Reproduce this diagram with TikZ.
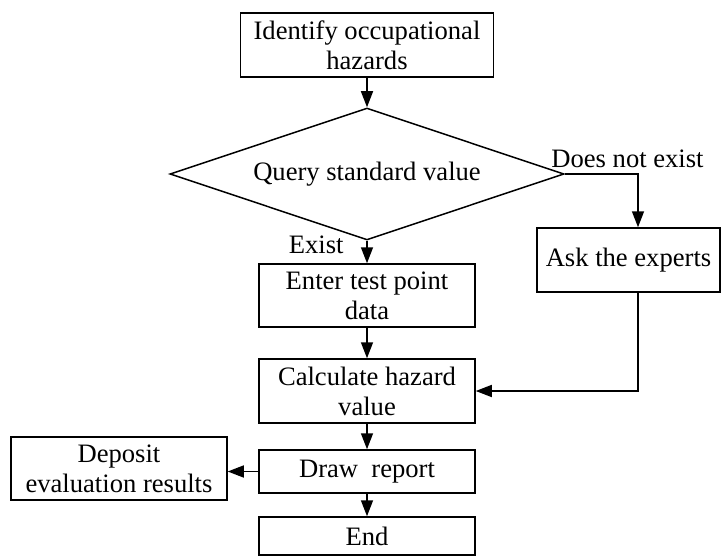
\documentclass[tikz,border=0pt]{standalone}
\usepackage{fontspec}
\setmainfont{Liberation Serif}
\usetikzlibrary{arrows.meta,shapes.geometric}
\tikzstyle{process}=[rectangle,draw,line width=0.75pt,inner sep=0pt,align=center,font=\fontsize{13.3}{15}\selectfont]
\tikzstyle{decision}=[diamond,draw,line width=0.75pt,inner sep=0pt,aspect=3,font=\fontsize{13.3}{15}\selectfont]
\tikzstyle{edge}=[draw,line width=0.75pt,-{Triangle[length=8pt,width=6pt]}]
\tikzstyle{branch}=[inner sep=0pt,font=\fontsize{13.3}{15}\selectfont]

\begin{document}
\begin{tikzpicture}[x=0.5pt,y=-0.5pt]
    \useasboundingbox (0,0) rectangle (723,556);

    % main column
    \node[process,minimum width=126.5pt,minimum height=32pt] (ident) at (367,45) {Identify occupational\\hazards};
    \node[decision,minimum width=197pt,minimum height=66pt] (query) at (367,174) {Query standard value};
    \node[process,minimum width=108pt,minimum height=31.5pt] (enter) at (367,295.5) {Enter test point\\data};
    \node[process,minimum width=108pt,minimum height=32pt] (calc) at (367,391) {Calculate hazard\\value};
    \node[process,minimum width=108pt,minimum height=21.5pt] (report) at (367,471.5) {Draw\ \ report};
    \node[process,minimum width=108pt,minimum height=19pt] (finish) at (367,536) {End};

    % side boxes
    \node[process,minimum width=108pt,minimum height=31.5pt] (deposit) at (119,468.5) {Deposit\\evaluation results};
    \node[process,minimum width=91.5pt,minimum height=32pt] (experts) at (628.5,260) {Ask the experts};
    \coordinate (turn) at (638,174);

    % Connect boxes
    \foreach \source/ \dest in {ident/query, query/enter, enter/calc, calc/report, report/finish}
        \path[edge] (\source) -- (\dest);
    \path[edge] (query.east) -- (turn) -- (turn |- experts.north);
    \path[edge] (experts.south -| turn) |- (calc.east);
    \path[edge] (report.west) -- (report.west -| deposit.east);

    % branch labels
    \node[branch,anchor=base east] (exist) at (344,253) {Exist};
    \node[branch,anchor=base west] (noexist) at (551,168) {Does not exist};
\end{tikzpicture}
\end{document}
